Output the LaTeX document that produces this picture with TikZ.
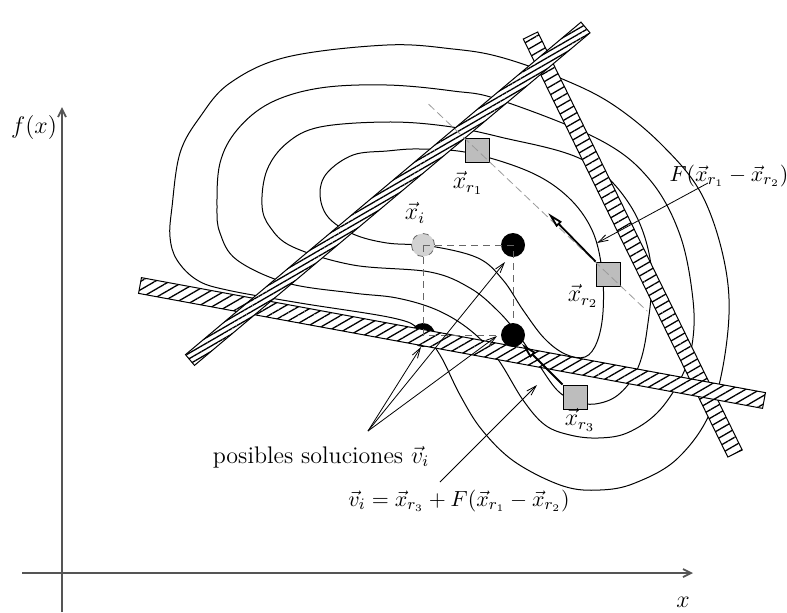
\documentclass[tikz,border=0pt]{standalone}
\usepackage{amsmath,amssymb}
\usetikzlibrary{arrows.meta,calc,patterns.meta}
\definecolor{ink}{HTML}{000000}
\definecolor{axisgray}{HTML}{555555}
\definecolor{boxgray}{HTML}{BDBDBD}
\definecolor{ptgray}{HTML}{D2D2D2}
\definecolor{guidegray}{HTML}{666666}
\definecolor{lightline}{HTML}{9A9A9A}
\tikzset{
  contour/.style={ink,line width=0.5pt},
  band/.style={draw=ink,line width=0.5pt,preaction={fill=white},
    pattern={Lines[angle=30,distance=#1,line width=0.65pt]}},
  band/.default=3.6pt,
  axisarr/.style={-{Straight Barb[length=4pt,width=4pt]},axisgray,line width=0.9pt},
  labarr/.style={-{Straight Barb[length=5pt,width=3pt]},line width=0.4pt},
  vecarr/.style={-{Triangle[open,length=8pt,width=3.6pt]},line width=0.9pt},
  sqpt/.style={draw=ink,fill=boxgray,line width=0.5pt,minimum size=12pt,inner sep=0pt},
  blackpt/.style={circle,fill=ink,minimum size=12pt,inner sep=0pt},
  targetpt/.style={circle,draw=guidegray,dashed,fill=ptgray,minimum size=11.5pt,inner sep=0pt,line width=0.4pt},
  dashguide/.style={guidegray,dash pattern=on 3.5pt off 2.5pt,line width=0.5pt},
  refline/.style={lightline,dash pattern=on 4pt off 2pt,line width=0.4pt},
  lbl/.style={font=\large,inner sep=0pt},
  eqlbl/.style={font=\fontsize{11}{13}\selectfont,inner sep=0pt}
}
% hatched strip between two end centres, #3 = half width, #4 = hatch distance
\newcommand{\hatchband}[4]{%
  \draw[band=#4] ($(#1)!#3!90:(#2)$) -- ($(#2)!#3!-90:(#1)$)
    -- ($(#2)!#3!90:(#1)$) -- ($(#1)!#3!-90:(#2)$) -- cycle;}

\begin{document}
\begin{tikzpicture}[x=0.5pt,y=-0.5pt,>=Latex]
  \useasboundingbox (0,0) rectangle (787,612);

  % axes
  \draw[axisarr] (62,612) -- (62,107);
  \draw[axisarr] (22,573) -- (693,573);
  \node[lbl] (fx) at (34,127) {$f(x)$};
  \node[lbl,anchor=base] (xl) at (683,607) {$x$};

  % level curves
  \draw[contour] plot[smooth cycle,tension=0.6] coordinates {
    (320,194) (327,173) (353,155) (387,151) (420,149) (470,153) (530,172)
    (568,197) (592,230) (602,270) (603,312) (597,342) (585,357) (565,354)
    (544,338) (523,310) (503,280) (478,258) (430,246) (387,243) (353,234) (328,217)};
  \draw[contour] plot[smooth cycle,tension=0.6] coordinates {
    (262,205) (267,170) (287,143) (320,127) (387,122) (445,126) (500,137)
    (583,160) (630,205) (651,265) (647,330) (637,370) (618,395) (595,404)
    (575,401) (557,390) (537,362) (517,333) (497,310) (470,288) (430,272)
    (353,265) (293,247) (270,227)};
  \draw[contour] plot[smooth cycle,tension=0.6] coordinates {
    (217,207) (220,163) (237,130) (270,103) (320,88) (387,85) (453,91)
    (500,100) (600,140) (650,180) (680,235) (693,300) (692,345) (680,380)
    (657,413) (627,433) (598,438) (570,435) (545,425) (523,400) (497,358)
    (470,330) (437,310) (397,298) (353,293) (287,283) (237,260) (220,233)};
  \draw[contour] plot[smooth cycle,tension=0.6] coordinates {
    (172,207) (180,153) (200,117) (230,83) (287,57) (387,45) (453,49)
    (500,57) (560,78) (612,104) (662,145) (702,195) (725,265) (728,330)
    (712,408) (678,458) (635,483) (600,490) (563,486) (515,462) (482,430)
    (460,395) (440,355) (420,330) (393,318) (300,303) (227,290) (197,280)
    (177,260) (170,237)};

  % candidate under the strip
  \node[blackpt] (vC) at (423,335) {};

  % constraint strips
  \coordinate (cT) at (530.5,35.5);
  \coordinate (cB) at (735,453.5);
  \coordinate (aL) at (140,285.5);
  \coordinate (aR) at (764,400.5);
  \coordinate (bL) at (190,360);
  \coordinate (bR) at (585.5,27.5);
  \hatchband{cT}{cB}{4pt}{3.6pt}
  \hatchband{aL}{aR}{4pt}{3.6pt}
  \hatchband{bL}{bR}{3.5pt}{2.4pt}

  % population members
  \node[sqpt] (r1) at (477,150) {};
  \node[sqpt] (r2) at (608,274) {};
  \node[sqpt] (r3) at (575,397) {};
  \draw[refline] ($(r1)!-0.37!(r2)$) -- ($(r1)!1.3!(r2)$);
  \node[targetpt] (xi) at (423,245) {};
  \node[blackpt] (vA) at (513,245) {};
  \draw[dashguide] (xi.center) -- (vA.center) -- (513,335);
  \draw[dashguide] (xi.center) -- (vC.center) -- (513,335);
  \node[blackpt] (vB) at (513,335) {};

  % difference vector and its copy at x_r3
  \coordinate (Ftip) at (548,213);
  \draw[vecarr] (r2.north west) -- (Ftip);
  \draw[vecarr] (r3.north west) -- (vB);

  % labels
  \node[lbl] (lxi) at (415,213) {$\vec{x}_i$};
  \node[lbl] (lr1) at (468,183) {$\vec{x}_{r_1}$};
  \node[lbl] (lr2) at (583,296) {$\vec{x}_{r_2}$};
  \node[lbl] (lr3) at (580,420) {$\vec{x}_{r_3}$};
  \node[eqlbl] (lF) at (729,176) {$F(\vec{x}_{r_1}-\vec{x}_{r_2})$};
  \node[lbl] (lsol) at (321,457) {posibles soluciones $\vec{v}_i$};
  \node[eqlbl] (leq) at (459,501) {$\vec{v}_i=\vec{x}_{r_3}+F(\vec{x}_{r_1}-\vec{x}_{r_2})$};

  \coordinate (Fsrc) at (708,183);
  \coordinate (Fend) at (597,243);
  \draw[labarr] (Fsrc) -- (Fend);
  \coordinate (solsrc) at (368,431);
  \coordinate (solA) at (421,347);
  \coordinate (solB) at (505,262);
  \coordinate (solC) at (497,336);
  \draw[labarr] (solsrc) -- (solA);
  \draw[labarr] (solsrc) -- (solB);
  \draw[labarr] (solsrc) -- (solC);
  \coordinate (eqsrc) at (440,482);
  \coordinate (eqend) at (537,385);
  \draw[labarr] (eqsrc) -- (eqend);
\end{tikzpicture}
\end{document}
